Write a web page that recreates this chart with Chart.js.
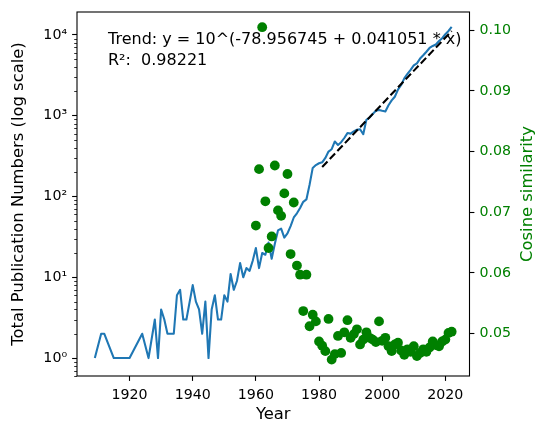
<!DOCTYPE html>
<html><head><meta charset="utf-8">
<script src="https://cdn.jsdelivr.net/npm/chart.js@4"></script>
<style>html,body{margin:0;padding:0;background:#fff}#wrap{width:538px;height:425px;position:relative}</style>
</head><body><div id="wrap"><canvas id="c" width="538" height="425"></canvas></div>
<script>
const pubYears = [1909,1911,1912,1915,1916,1917,1918,1919,1920,1924,1926,1928,1929,1930,1931,1932,1933,1934,1935,1936,1937,1938,1940,1941,1942,1943,1944,1945,1946,1947,1948,1949,1950,1951,1952,1953,1954,1955,1956,1957,1958,1959,1960,1961,1962,1963,1964,1965,1966,1967,1968,1969,1970,1971,1972,1973,1974,1975,1976,1977,1978,1979,1980,1981,1982,1983,1984,1985,1986,1987,1988,1989,1990,1991,1992,1993,1994,1995,1996,1997,1998,1999,2000,2001,2002,2003,2004,2005,2006,2007,2008,2009,2010,2011,2012,2013,2014,2015,2016,2017,2018,2019,2020,2021,2022];
const pubCounts = [1,2,2,1,1,1,1,1,1,2,1,3,1,4,3,2,2,2,6,7,3,3,8,5,4,2,5,1,4,6,3,3,6,5,11,7,9,15,10,13,12,16,23,13,20,19,27,17,26,38,40,31,35,43,55,62,72,86,92,140,226,245,258,265,300,360,385,480,435,470,530,610,600,640,670,680,590,890,950,1050,1150,1180,1150,1130,1350,1550,1720,2100,2400,2900,3300,3700,4200,4450,5100,5600,6200,6900,7300,7600,8400,9100,10200,11200,12600];
const simYears = [1960,1961,1962,1963,1964,1965,1966,1967,1968,1969,1970,1971,1972,1973,1974,1975,1976,1977,1978,1979,1980,1981,1982,1983,1984,1985,1986,1987,1988,1989,1990,1991,1992,1993,1994,1995,1996,1997,1998,1999,2000,2001,2002,2003,2004,2005,2006,2007,2008,2009,2010,2011,2012,2013,2014,2015,2016,2017,2018,2019,2020,2021,2022];
const simValues = [0.0678,0.0771,0.1005,0.0718,0.0641,0.0660,0.0777,0.0703,0.0694,0.0731,0.0763,0.0631,0.0716,0.0612,0.0597,0.0537,0.0597,0.0512,0.0531,0.0520,0.0487,0.0480,0.0471,0.0524,0.0457,0.0466,0.0496,0.0468,0.0502,0.0522,0.0493,0.0499,0.0507,0.0482,0.0490,0.0502,0.0493,0.0490,0.0486,0.0520,0.0488,0.0493,0.0479,0.0471,0.0482,0.0485,0.0472,0.0465,0.0474,0.0470,0.0479,0.0463,0.0468,0.0474,0.0470,0.0477,0.0487,0.0481,0.0479,0.0487,0.0490,0.0501,0.0503];
const trendYears = [1981, 2022];
const trendCounts = [231.9, 11178];
const xTicks = [1920,1940,1960,1980,2000,2020];
const yMajorTicks = [1,10,100,1000,10000];
const yMajorLabels = ['10\u2070','10\u00B9','10\u00B2','10\u00B3','10\u2074'];
const y2Ticks = [0.05,0.06,0.07,0.08,0.09,0.10];
const trendText = 'Trend: y = 10^(-78.956745 + 0.041051 * x)';
const r2Text = 'R\u00B2:  0.98221';

const FONT = 'DejaVu Sans';
const TICK_FS = 14.2;
const LABEL_FS = 16.4;
const NOTE_FS = 16.0;
const GREEN = '#008000';

function zeroPad(s){ s.paddingTop=0; s.paddingBottom=0; s.paddingLeft=0; s.paddingRight=0; }

const overlay = {
  id: 'overlay',
  beforeDatasetDraw(chart, args) {
    if (args.index !== 0) return;
    const ctx = chart.ctx;
    ctx.save();
    ctx.fillStyle = '#000';
    ctx.font = NOTE_FS + 'px "' + FONT + '"';
    ctx.textAlign = 'left';
    ctx.textBaseline = 'alphabetic';
    ctx.fillText(trendText, 108, 43.5);
    ctx.fillText(r2Text, 108, 65);
    ctx.restore();
  },
  afterDraw(chart) {
    const ctx = chart.ctx, a = chart.chartArea;
    ctx.save();
    const ys = chart.scales.y;
    ctx.strokeStyle = '#000';
    ctx.lineWidth = 0.8;
    for (let k = -1; k <= 4; k++) {
      for (let m = 2; m <= 9; m++) {
        const v = m * Math.pow(10, k);
        if (v < ys.min || v > ys.max) continue;
        const py = Math.round(ys.getPixelForValue(v)) + 0.5;
        ctx.beginPath(); ctx.moveTo(a.left - 2.8, py); ctx.lineTo(a.left, py); ctx.stroke();
      }
    }
    ctx.lineWidth = 1.1;
    ctx.strokeRect(a.left, a.top, a.right - a.left, a.bottom - a.top);
    ctx.fillStyle = GREEN;
    ctx.font = LABEL_FS + 'px "' + FONT + '"';
    ctx.translate(528, 194);
    ctx.rotate(-Math.PI / 2);
    ctx.textAlign = 'center';
    ctx.textBaseline = 'middle';
    ctx.fillText('Cosine similarity', 0, 0);
    ctx.restore();
  }
};

new Chart(document.getElementById('c'), {
  type: 'line',
  data: {
    datasets: [
      {
        type: 'scatter',
        data: simYears.map((x, i) => ({x, y: simValues[i]})),
        yAxisID: 'y2', xAxisID: 'x',
        backgroundColor: GREEN, borderWidth: 0,
        pointRadius: 4.9, pointHoverRadius: 4.9,
        order: 0
      },
      {
        type: 'line',
        data: trendYears.map((x, i) => ({x, y: trendCounts[i]})),
        yAxisID: 'y', xAxisID: 'x',
        borderColor: '#000', borderWidth: 2.08, borderDash: [7.7, 3.3],
        pointRadius: 0, fill: false, tension: 0,
        order: 1
      },
      {
        type: 'line',
        data: pubYears.map((x, i) => ({x, y: pubCounts[i]})),
        yAxisID: 'y', xAxisID: 'x',
        borderColor: '#1f77b4', borderWidth: 2.08,
        pointRadius: 0, fill: false, tension: 0,
        borderJoinStyle: 'round', borderCapStyle: 'butt',
        order: 2
      }
    ]
  },
  options: {
    responsive: false,
    devicePixelRatio: 1,
    animation: false,
    layout: { padding: { top: 12, left: 0, right: 0, bottom: 0 } },
    plugins: { legend: { display: false }, tooltip: { enabled: false } },
    scales: {
      x: {
        type: 'linear', position: 'bottom',
        min: 1903.35, max: 2027.65,
        afterBuildTicks: s => { s.ticks = xTicks.map(v => ({value: v})); },
        afterFit: s => { s.height = 49; zeroPad(s); },
        ticks: { color: '#000', font: { family: FONT, size: TICK_FS }, padding: 5.5, maxRotation: 0, autoSkip: false, callback: v => String(v) },
        grid: { drawOnChartArea: false, tickLength: 4.9, tickColor: '#000', tickWidth: 1.1 },
        border: { display: false },
        title: { display: true, text: 'Year', color: '#000', font: { family: FONT, size: LABEL_FS }, padding: { top: 0, bottom: 0 } }
      },
      y: {
        type: 'logarithmic', position: 'left',
        min: 0.625, max: 19230,
        afterBuildTicks: s => { s.ticks = yMajorTicks.map(v => ({value: v, major: true})); },
        afterFit: s => { s.width = 77; zeroPad(s); },
        ticks: { color: '#000', font: { family: FONT, size: TICK_FS }, padding: 5, autoSkip: false,
          callback: v => { const i = yMajorTicks.indexOf(v); return i >= 0 ? yMajorLabels[i] : ''; } },
        grid: { drawOnChartArea: false, tickLength: 4.9, tickColor: '#000', tickWidth: 1.1 },
        border: { display: false },
        title: { display: true, text: 'Total Publication Numbers (log scale)', color: '#000', font: { family: FONT, size: LABEL_FS }, padding: { top: 9, bottom: 0 } }
      },
      y2: {
        type: 'linear', position: 'right',
        min: 0.0430, max: 0.1030,
        afterBuildTicks: s => { s.ticks = y2Ticks.map(v => ({value: v})); },
        afterFit: s => { s.width = 68.5; zeroPad(s); },
        ticks: { color: GREEN, font: { family: FONT, size: TICK_FS }, padding: 5, autoSkip: false, callback: v => v.toFixed(2) },
        grid: { drawOnChartArea: false, tickLength: 4.9, tickColor: '#000', tickWidth: 1.1 },
        border: { display: false }
      }
    }
  },
  plugins: [overlay]
});
</script>
</body></html>
